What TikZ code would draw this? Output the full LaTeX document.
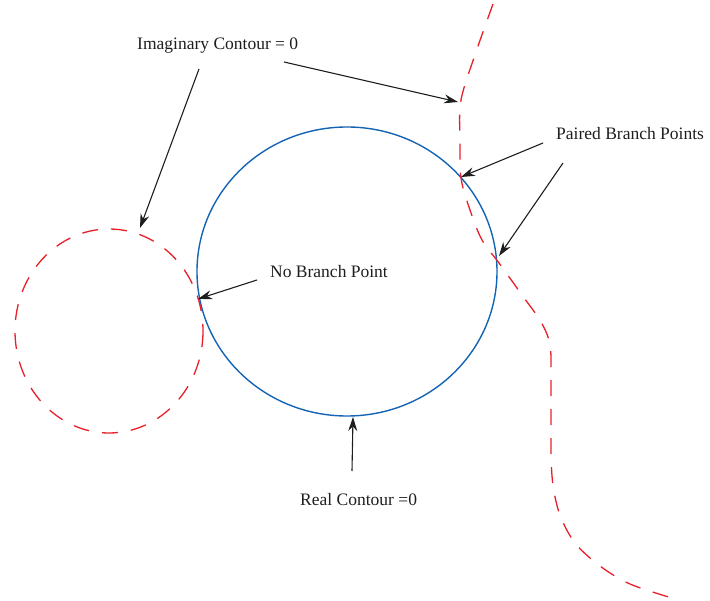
\documentclass[tikz,border=0pt]{standalone}
\usepackage{fontspec}
\setmainfont{Liberation Serif}
\usetikzlibrary{arrows.meta}
\definecolor{bluec}{RGB}{20,100,180}
\definecolor{redc}{RGB}{232,32,42}
\definecolor{arrc}{RGB}{30,30,30}
\begin{document}
\begin{tikzpicture}[x=1pt,y=-1pt,
  lbl/.style={anchor=base west,inner sep=0pt,font=\fontsize{17.5}{20}\selectfont,text=arrc},
  arr/.style={draw=arrc,line width=1.1pt,-{Stealth[length=14pt,width=9pt]}},
  realc/.style={draw=bluec,line width=1.4pt},
  imagc/.style={draw=redc,line width=1.3pt,dash pattern=on 16pt off 13pt}]
\useasboundingbox (0,0) rectangle (710,601);
% contours
\draw[realc] (347,271.5) ellipse [x radius=150, y radius=144.5];
\draw[imagc] (109,331) ellipse [x radius=94, y radius=102];
\draw[imagc] plot[smooth,tension=0.55] coordinates {(493,4) (476,52) (461,100) (460,140) (461,178) (470,210) (482,240) (499,263) (522,295) (541,322) (550,345) (551,380) (551,450) (553,485) (560,515) (575,543) (600,566) (630,584) (672,598)};
% labels
\node[lbl] (imag) at (137,50) {Imaginary Contour = 0};
\node[lbl] (pair) at (556,140) {Paired Branch Points};
\node[lbl] (nobr) at (270,278) {No Branch Point};
\node[lbl] (real) at (300,506) {Real Contour =0};
% arrow points
\coordinate (a1s) at (284,62);  \coordinate (a1e) at (458,102);
\coordinate (a2s) at (199,69);  \coordinate (a2e) at (140,228);
\coordinate (a3s) at (543,143); \coordinate (a3e) at (461,177);
\coordinate (a4s) at (563,163); \coordinate (a4e) at (499,256);
\coordinate (a5s) at (257,280); \coordinate (a5e) at (198,299);
\coordinate (a6s) at (352,471); \coordinate (a6e) at (353,417);
\draw[arr] (a1s) -- (a1e);
\draw[arr] (a2s) -- (a2e);
\draw[arr] (a3s) -- (a3e);
\draw[arr] (a4s) -- (a4e);
\draw[arr] (a5s) -- (a5e);
\draw[arr] (a6s) -- (a6e);
\end{tikzpicture}
\end{document}
